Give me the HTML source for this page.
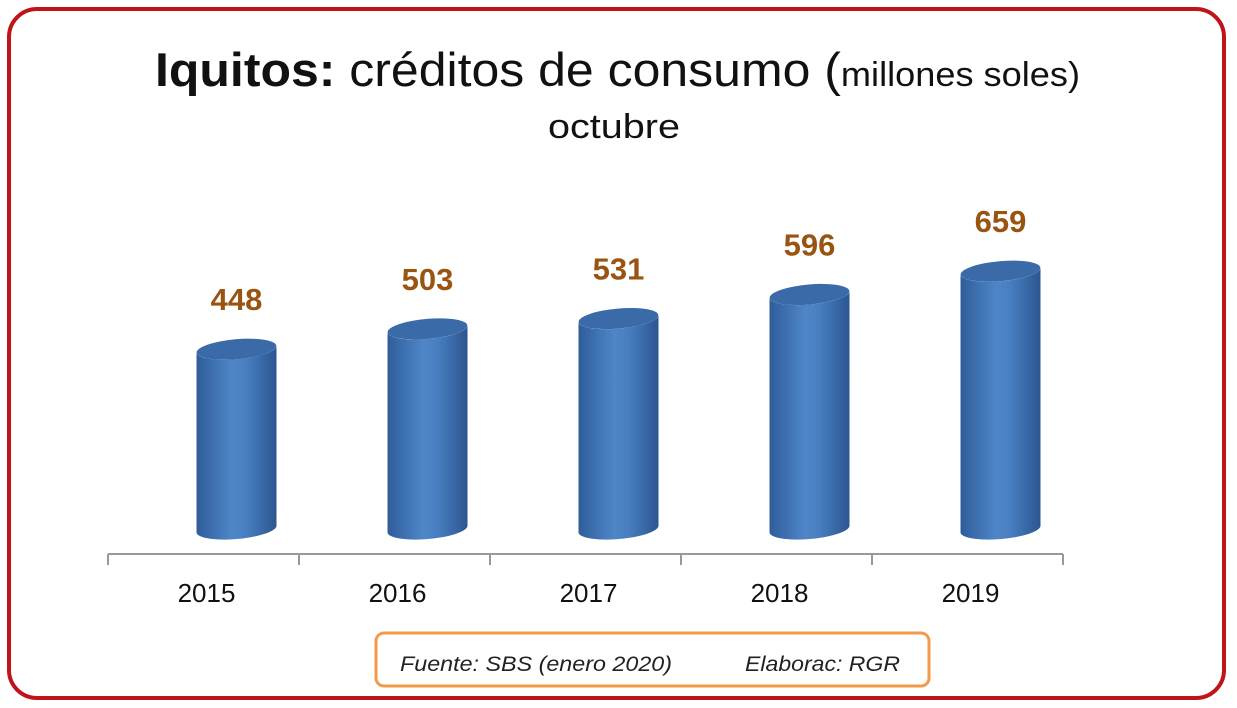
<!DOCTYPE html>
<html><head><meta charset="utf-8"><style>
html,body{margin:0;padding:0;background:#fff;}
body{width:1237px;height:708px;position:relative;overflow:hidden;font-family:"Liberation Sans",sans-serif;}
</style></head><body>
<svg width="1237" height="708" style="position:absolute;left:0;top:0">
<defs>
<linearGradient id="cyl" x1="0" x2="1" y1="0" y2="0">
<stop offset="0" stop-color="#2f5d9a"/><stop offset="0.45" stop-color="#4f86c8"/><stop offset="0.6" stop-color="#4a80c2"/><stop offset="1" stop-color="#2b5690"/>
</linearGradient>
</defs>
<rect x="9" y="9" width="1215" height="689" rx="28" fill="none" stroke="#c0141b" stroke-width="4"/>
<text x="155" y="86" font-size="47" fill="#111" textLength="925" lengthAdjust="spacingAndGlyphs"><tspan font-weight="bold">Iquitos:</tspan> créditos de consumo (<tspan font-size="34">millones soles)</tspan></text>
<text x="548" y="138" font-size="34" fill="#111" textLength="132" lengthAdjust="spacingAndGlyphs">octubre</text>
<line x1="108" y1="554" x2="1063" y2="554" stroke="#999" stroke-width="2"/>
<g id="ticks"></g>
<g id="bars"></g>
<rect x="376" y="633" width="553" height="53" rx="8" fill="none" stroke="#f39a4a" stroke-width="3"/>
<text x="400" y="671" font-size="21" font-style="italic" fill="#222" textLength="272" lengthAdjust="spacingAndGlyphs">Fuente: SBS (enero 2020)</text>
<text x="745" y="671" font-size="21" font-style="italic" fill="#222" textLength="155" lengthAdjust="spacingAndGlyphs">Elaborac: RGR</text>
</svg>
<script>
const categories=["2015","2016","2017","2018","2019"];
const values=[448,503,531,596,659];
const ns="http://www.w3.org/2000/svg";
const x0=108,step=191;
function xCat(i){return x0+step*i+step/2;}
function yVal(v){return 515-v*0.37;}
const bars=document.getElementById('bars'),ticks=document.getElementById('ticks');
for(let i=0;i<=categories.length;i++){
 const t=document.createElementNS(ns,'line');
 
 
 const x=x0+step*i;
 t.setAttribute('x1',x);t.setAttribute('x2',x);t.setAttribute('y1',554);t.setAttribute('y2',565);
 t.setAttribute('stroke','#999');t.setAttribute('stroke-width','2');ticks.appendChild(t);
}
categories.forEach((c,i)=>{
 const cx=xCat(i)+33, rx=40, ry=10, yb=529, yt=yVal(values[i]);
 const g=document.createElementNS(ns,'g');
 
 
 const body=document.createElementNS(ns,'path');
 body.setAttribute('d',`M${cx-rx},${yt+3} L${cx-rx},${yb+3} A${rx},${ry} -5 0 0 ${cx+rx},${yb-3} L${cx+rx},${yt-3} A${rx},${ry} -5 0 1 ${cx-rx},${yt+3} Z`);
 body.setAttribute('fill','url(#cyl)');g.appendChild(body);
 const top=document.createElementNS(ns,'ellipse');
 top.setAttribute('cx',cx);top.setAttribute('cy',yt);top.setAttribute('rx',rx);top.setAttribute('ry',ry);
 top.setAttribute('transform',`rotate(-5 ${cx} ${yt})`);top.setAttribute('fill','#3a6aa8');g.appendChild(top);
 bars.appendChild(g);
 const lab=document.createElementNS(ns,'text');
 
 
 lab.setAttribute('x',cx);lab.setAttribute('y',yt-39);lab.setAttribute('text-anchor','middle');
 lab.setAttribute('font-size','31');lab.setAttribute('font-weight','bold');lab.setAttribute('fill','#9a5412');
 lab.textContent=values[i];bars.appendChild(lab);
 const cl=document.createElementNS(ns,'text');
 
 
 cl.setAttribute('x',xCat(i)+3);cl.setAttribute('y',602);cl.setAttribute('text-anchor','middle');
 cl.setAttribute('font-size','26');cl.setAttribute('fill','#111');cl.textContent=c;bars.appendChild(cl);
});
</script>
</body></html>
